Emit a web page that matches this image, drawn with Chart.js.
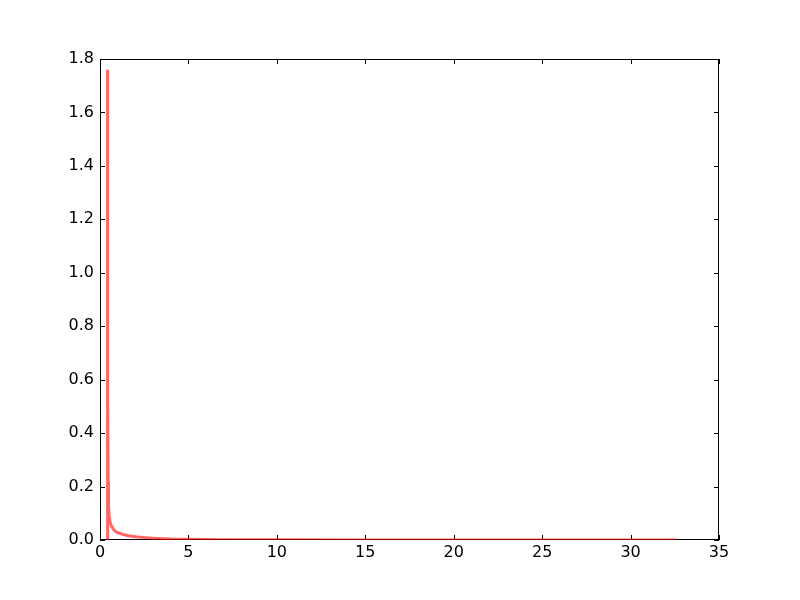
<!DOCTYPE html>
<html>
<head>
<meta charset="utf-8">
<script src="https://cdn.jsdelivr.net/npm/chart.js@4/dist/chart.umd.min.js"></script>
<style>
  html, body { margin: 0; padding: 0; background: #fff; }
  #wrap { width: 800px; height: 600px; }
</style>
</head>
<body>
<div id="wrap"><canvas id="pdfChart" width="800" height="600"></canvas></div>
<script>
// valores
const xValues = [0.40, 0.42, 0.44, 0.46, 0.48, 0.52, 0.58, 0.66, 0.78, 0.9, 1.05, 1.3, 1.6, 2.0, 2.5, 3.0, 4.0, 5.0, 7.0, 10.0, 15.0, 20.0, 25.0, 32.5];
const yValues = [0.0, 1.76, 0.55, 0.22, 0.13, 0.085, 0.065, 0.05, 0.038, 0.031, 0.026, 0.021, 0.016, 0.012, 0.009, 0.007, 0.004, 0.0025, 0.0012, 0.0005, 0.0002, 0.0001, 0.00005, 0.00002];
const xTicks = [0, 5, 10, 15, 20, 25, 30, 35];
const yTicks = [0.0, 0.2, 0.4, 0.6, 0.8, 1.0, 1.2, 1.4, 1.6, 1.8];

const points = xValues.map((x, i) => ({ x: x, y: yValues[i] }));

// moldura e marcas para dentro (estilo matplotlib)
const framePlugin = {
    id: 'frame',
    beforeDatasetsDraw(chart) {
        const { ctx, chartArea: a, scales } = chart;
        const len = 5;
        ctx.save();
        ctx.strokeStyle = '#000';
        ctx.lineWidth = 1;
        ctx.strokeRect(a.left + 0.5, a.top + 0.5, a.right - a.left - 1, a.bottom - a.top - 1);
        ctx.beginPath();
        xTicks.forEach(v => {
            const px = Math.round(scales.x.getPixelForValue(v)) + 0.5;
            ctx.moveTo(px, a.bottom);
            ctx.lineTo(px, a.bottom - len);
            ctx.moveTo(px, a.top);
            ctx.lineTo(px, a.top + len);
        });
        yTicks.forEach(v => {
            const py = Math.round(scales.y.getPixelForValue(v)) + 0.5;
            ctx.moveTo(a.left, py);
            ctx.lineTo(a.left + len, py);
            ctx.moveTo(a.right, py);
            ctx.lineTo(a.right - len, py);
        });
        ctx.stroke();
        ctx.restore();
    }
};

const tickFont = { family: 'DejaVu Sans', size: 16 };

new Chart(document.getElementById('pdfChart'), {
    type: 'line',
    data: {
        datasets: [{
            data: points,
            borderColor: 'rgba(255, 0, 0, 0.6)',
            borderWidth: 3,
            pointRadius: 0,
            tension: 0,
            fill: false
        }]
    },
    options: {
        responsive: false,
        animation: false,
        layout: {
            padding: { left: 0, top: 59, right: 81, bottom: 0 }
        },
        plugins: {
            legend: { display: false },
            tooltip: { enabled: false }
        },
        scales: {
            x: {
                type: 'linear',
                min: 0,
                max: 35,
                afterBuildTicks: (scale) => { scale.ticks = xTicks.map(v => ({ value: v })); },
                afterFit: (scale) => { scale.height = 60; },
                grid: { display: false, drawTicks: false },
                border: { display: false },
                ticks: {
                    color: '#000',
                    font: tickFont,
                    padding: 3,
                    maxRotation: 0,
                    callback: (v) => String(v)
                }
            },
            y: {
                type: 'linear',
                min: 0,
                max: 1.8,
                afterBuildTicks: (scale) => { scale.ticks = yTicks.map(v => ({ value: v })); },
                afterFit: (scale) => { scale.width = 100; },
                grid: { display: false, drawTicks: false },
                border: { display: false },
                ticks: {
                    color: '#000',
                    font: tickFont,
                    padding: 6,
                    callback: (v) => Number(v).toFixed(1)
                }
            }
        }
    },
    plugins: [framePlugin]
});
</script>
</body>
</html>
